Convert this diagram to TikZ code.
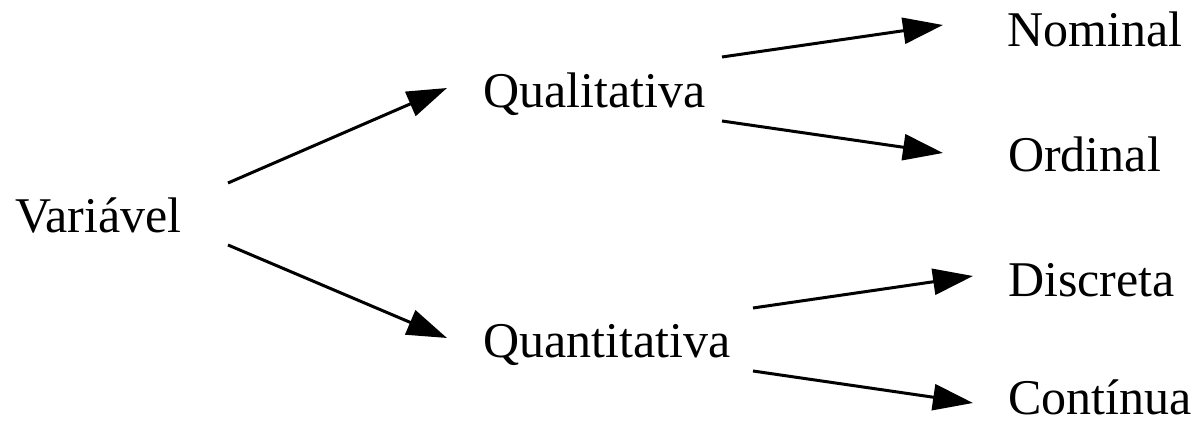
\documentclass[tikz,border=0pt]{standalone}
\usepackage{fontspec}
\setmainfont{Liberation Serif}
\usetikzlibrary{arrows.meta}
\begin{document}
\begin{tikzpicture}[x=1pt,y=1pt,
  lbl/.style={anchor=base west,inner sep=0pt,font=\fontsize{50}{60}\selectfont},
  arr/.style={line width=3pt,-{Triangle[length=40pt,width=26pt]}}]
\useasboundingbox (0,0) rectangle (1203,427);
\node[lbl] (v) at (15,194) {Variável};
\node[lbl] (ql) at (483,319) {Qualitativa};
\node[lbl] (qt) at (483,69) {Quantitativa};
\node[lbl] (nom) at (1007,380) {Nominal};
\node[lbl] (ord) at (1008,255) {Ordinal};
\node[lbl] (dis) at (1008,130) {Discreta};
\node[lbl] (con) at (1008,12) {Contínua};
\coordinate (v-ql-s) at (228,244);
\coordinate (v-ql-e) at (447,339);
\coordinate (v-qt-s) at (228,182);
\coordinate (v-qt-e) at (447,89);
\coordinate (ql-nom-s) at (722,370);
\coordinate (ql-nom-e) at (943,402);
\coordinate (ql-ord-s) at (722,306);
\coordinate (ql-ord-e) at (943,274);
\coordinate (qt-dis-s) at (753,119);
\coordinate (qt-dis-e) at (973,151);
\coordinate (qt-con-s) at (753,56);
\coordinate (qt-con-e) at (973,24);
\draw[arr] (v-ql-s) -- (v-ql-e);
\draw[arr] (v-qt-s) -- (v-qt-e);
\draw[arr] (ql-nom-s) -- (ql-nom-e);
\draw[arr] (ql-ord-s) -- (ql-ord-e);
\draw[arr] (qt-dis-s) -- (qt-dis-e);
\draw[arr] (qt-con-s) -- (qt-con-e);
\end{tikzpicture}
\end{document}
